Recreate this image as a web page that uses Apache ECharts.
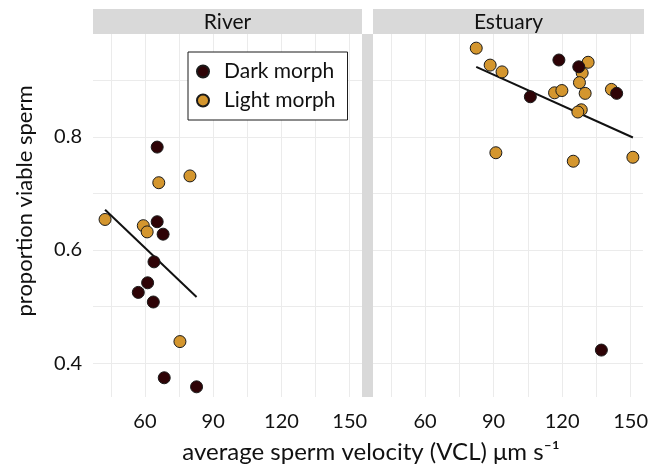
<!DOCTYPE html>
<html>
<head>
<meta charset="utf-8">
<script src="https://cdn.jsdelivr.net/npm/echarts@6/dist/echarts.min.js"></script>
<style>
  html, body { margin: 0; padding: 0; background: #fff; }
  #chart { width: 651px; height: 471px; }
</style>
</head>
<body>
<div id="chart"></div>
<script>
// values
const panels = ['River', 'Estuary'];
const morphs = ['Dark morph', 'Light morph'];

const riverDarkX = [65.4, 65.4, 68.0, 64.0, 61.2, 57.1, 63.7, 68.5, 82.7];
const riverDarkY = [0.782, 0.650, 0.628, 0.579, 0.542, 0.525, 0.508, 0.374, 0.358];
const riverLightX = [42.5, 59.3, 61.0, 66.1, 79.8, 75.4];
const riverLightY = [0.654, 0.643, 0.632, 0.719, 0.731, 0.438];

const estuaryDarkX = [118.6, 127.3, 106.1, 143.9, 137.2];
const estuaryDarkY = [0.936, 0.924, 0.871, 0.877, 0.423];
const estuaryLightX = [82.4, 88.5, 93.7, 91.0, 116.7, 119.9, 131.4, 128.8, 127.6, 130.1, 128.4, 126.9, 141.6, 124.9, 151.0];
const estuaryLightY = [0.957, 0.927, 0.915, 0.772, 0.878, 0.882, 0.932, 0.913, 0.896, 0.877, 0.848, 0.844, 0.884, 0.757, 0.764];

// fitted lines (end points)
const riverFitX = [42.5, 82.7];
const riverFitY = [0.671, 0.517];
const estuaryFitX = [82.4, 151.0];
const estuaryFitY = [0.924, 0.799];

const xGridTicks = [45, 60, 75, 90, 105, 120, 135, 150];
const xLabelTicks = [60, 90, 120, 150];
const yGridTicks = [0.4, 0.5, 0.6, 0.7, 0.8, 0.9];
const yLabelTicks = [0.4, 0.6, 0.8];

const FONT = 'Lato, "Noto Sans", sans-serif';
const colors = { 'Dark morph': '#2e0306', 'Light morph': '#d4962e' };

const zip = (xs, ys) => xs.map((x, i) => [x, ys[i]]);

function xAxisFor(gridIndex) {
  return {
    type: 'value', gridIndex: gridIndex, min: 37.2, max: 155.4,
    axisLine: { show: false },
    axisTick: { show: false, customValues: xGridTicks },
    axisLabel: {
      customValues: xLabelTicks, margin: 15,
      color: '#111', fontSize: 20, fontFamily: FONT
    },
    splitLine: { show: true, lineStyle: { color: '#ebebeb', width: 1 } }
  };
}

function yAxisFor(gridIndex, labels) {
  return {
    type: 'value', gridIndex: gridIndex, min: 0.34, max: 0.982,
    axisLine: { show: false },
    axisTick: { show: false, customValues: yGridTicks },
    axisLabel: {
      show: labels, customValues: yLabelTicks, margin: 11,
      color: '#111', fontSize: 20, fontFamily: FONT,
      formatter: v => v.toFixed(1)
    },
    splitLine: { show: true, lineStyle: { color: '#ebebeb', width: 1 } }
  };
}

function pointSeries(name, idx, data) {
  return {
    name: name, type: 'scatter', xAxisIndex: idx, yAxisIndex: idx,
    data: data, symbolSize: 12,
    itemStyle: { color: colors[name], borderColor: '#1a1a1a', borderWidth: 1, opacity: 1 },
    emphasis: { disabled: true }
  };
}

function fitSeries(idx, data) {
  return {
    type: 'line', xAxisIndex: idx, yAxisIndex: idx, data: data,
    showSymbol: false, silent: true, z: 1,
    lineStyle: { color: '#111', width: 2 }
  };
}

const chart = echarts.init(document.getElementById('chart'));

chart.setOption({
  backgroundColor: '#fff',
  animation: false,
  textStyle: { fontFamily: FONT },
  grid: [
    { left: 93, top: 34, width: 269, height: 363 },
    { left: 373, top: 34, width: 271, height: 363 }
  ],
  xAxis: [xAxisFor(0), xAxisFor(1)],
  yAxis: [yAxisFor(0, true), yAxisFor(1, false)],
  legend: {
    data: morphs, orient: 'vertical', left: 188, top: 52,
    padding: [9, 12, 9, 8], itemGap: 8,
    itemWidth: 32, itemHeight: 12,
    backgroundColor: '#fff', borderColor: '#1a1a1a', borderWidth: 1,
    textStyle: { color: '#111', fontSize: 21, fontFamily: FONT }
  },
  graphic: [
    // facet strips
    { type: 'rect', shape: { x: 93, y: 9, width: 269, height: 25 }, style: { fill: '#d9d9d9' } },
    { type: 'rect', shape: { x: 373, y: 9, width: 271, height: 25 }, style: { fill: '#d9d9d9' } },
    { type: 'rect', shape: { x: 362, y: 34, width: 11, height: 363 }, style: { fill: '#d9d9d9' } },
    { type: 'text', x: 227.5, y: 22, style: { text: panels[0], font: '21px ' + FONT, fill: '#111', align: 'center', verticalAlign: 'middle' } },
    { type: 'text', x: 508.5, y: 22, style: { text: panels[1], font: '21px ' + FONT, fill: '#111', align: 'center', verticalAlign: 'middle' } },
    // axis titles
    { type: 'text', x: 371, y: 452, style: { text: 'average sperm velocity (VCL) μm s⁻¹', font: '24px ' + FONT, fill: '#111', align: 'center', verticalAlign: 'middle' } },
    { type: 'text', x: 25, y: 201, rotation: Math.PI / 2, style: { text: 'proportion viable sperm', font: '22px ' + FONT, fill: '#111', align: 'center', verticalAlign: 'middle' } }
  ],
  series: [
    fitSeries(0, zip(riverFitX, riverFitY)),
    pointSeries('Dark morph', 0, zip(riverDarkX, riverDarkY)),
    pointSeries('Light morph', 0, zip(riverLightX, riverLightY)),
    fitSeries(1, zip(estuaryFitX, estuaryFitY)),
    pointSeries('Light morph', 1, zip(estuaryLightX, estuaryLightY)),
    pointSeries('Dark morph', 1, zip(estuaryDarkX, estuaryDarkY))
  ]
});
</script>
</body>
</html>
